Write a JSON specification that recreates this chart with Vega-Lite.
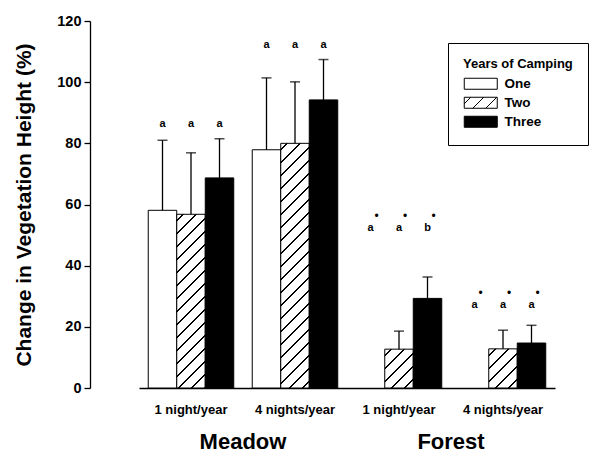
{
  "$schema": "https://vega.github.io/schema/vega-lite/v6.json",
  "width": 502,
  "height": 367,
  "autosize": "none",
  "padding": {"left": 90, "top": 21, "right": 3, "bottom": 69},
  "background": "white",
  "config": {
    "view": {"stroke": null},
    "font": "Liberation Sans",
    "axis": {"labelColor": "black", "titleColor": "black", "domainColor": "black", "tickColor": "black", "grid": false}
  },
  "params": [
    {"name": "hs", "value": [
      {"offset":0.01792,"color":"#fff"},{"offset":0.01792,"color":"#000"},{"offset":0.02375,"color":"#000"},{"offset":0.02375,"color":"#fff"},
      {"offset":0.05958,"color":"#fff"},{"offset":0.05958,"color":"#000"},{"offset":0.06542,"color":"#000"},{"offset":0.06542,"color":"#fff"},
      {"offset":0.10125,"color":"#fff"},{"offset":0.10125,"color":"#000"},{"offset":0.10708,"color":"#000"},{"offset":0.10708,"color":"#fff"},
      {"offset":0.14292,"color":"#fff"},{"offset":0.14292,"color":"#000"},{"offset":0.14875,"color":"#000"},{"offset":0.14875,"color":"#fff"},
      {"offset":0.18458,"color":"#fff"},{"offset":0.18458,"color":"#000"},{"offset":0.19042,"color":"#000"},{"offset":0.19042,"color":"#fff"},
      {"offset":0.22625,"color":"#fff"},{"offset":0.22625,"color":"#000"},{"offset":0.23208,"color":"#000"},{"offset":0.23208,"color":"#fff"},
      {"offset":0.26792,"color":"#fff"},{"offset":0.26792,"color":"#000"},{"offset":0.27375,"color":"#000"},{"offset":0.27375,"color":"#fff"},
      {"offset":0.30958,"color":"#fff"},{"offset":0.30958,"color":"#000"},{"offset":0.31542,"color":"#000"},{"offset":0.31542,"color":"#fff"},
      {"offset":0.35125,"color":"#fff"},{"offset":0.35125,"color":"#000"},{"offset":0.35708,"color":"#000"},{"offset":0.35708,"color":"#fff"},
      {"offset":0.39292,"color":"#fff"},{"offset":0.39292,"color":"#000"},{"offset":0.39875,"color":"#000"},{"offset":0.39875,"color":"#fff"},
      {"offset":0.43458,"color":"#fff"},{"offset":0.43458,"color":"#000"},{"offset":0.44042,"color":"#000"},{"offset":0.44042,"color":"#fff"},
      {"offset":0.47625,"color":"#fff"},{"offset":0.47625,"color":"#000"},{"offset":0.48208,"color":"#000"},{"offset":0.48208,"color":"#fff"},
      {"offset":0.51792,"color":"#fff"},{"offset":0.51792,"color":"#000"},{"offset":0.52375,"color":"#000"},{"offset":0.52375,"color":"#fff"},
      {"offset":0.55958,"color":"#fff"},{"offset":0.55958,"color":"#000"},{"offset":0.56542,"color":"#000"},{"offset":0.56542,"color":"#fff"},
      {"offset":0.60125,"color":"#fff"},{"offset":0.60125,"color":"#000"},{"offset":0.60708,"color":"#000"},{"offset":0.60708,"color":"#fff"},
      {"offset":0.64292,"color":"#fff"},{"offset":0.64292,"color":"#000"},{"offset":0.64875,"color":"#000"},{"offset":0.64875,"color":"#fff"},
      {"offset":0.68458,"color":"#fff"},{"offset":0.68458,"color":"#000"},{"offset":0.69042,"color":"#000"},{"offset":0.69042,"color":"#fff"},
      {"offset":0.72625,"color":"#fff"},{"offset":0.72625,"color":"#000"},{"offset":0.73208,"color":"#000"},{"offset":0.73208,"color":"#fff"},
      {"offset":0.76792,"color":"#fff"},{"offset":0.76792,"color":"#000"},{"offset":0.77375,"color":"#000"},{"offset":0.77375,"color":"#fff"},
      {"offset":0.80958,"color":"#fff"},{"offset":0.80958,"color":"#000"},{"offset":0.81542,"color":"#000"},{"offset":0.81542,"color":"#fff"},
      {"offset":0.85125,"color":"#fff"},{"offset":0.85125,"color":"#000"},{"offset":0.85708,"color":"#000"},{"offset":0.85708,"color":"#fff"},
      {"offset":0.89292,"color":"#fff"},{"offset":0.89292,"color":"#000"},{"offset":0.89875,"color":"#000"},{"offset":0.89875,"color":"#fff"},
      {"offset":0.93458,"color":"#fff"},{"offset":0.93458,"color":"#000"},{"offset":0.94042,"color":"#000"},{"offset":0.94042,"color":"#fff"},
      {"offset":0.97625,"color":"#fff"},{"offset":0.97625,"color":"#000"},{"offset":0.98208,"color":"#000"},{"offset":0.98208,"color":"#fff"}
    ]},
    {"name": "gM1", "expr": "{gradient: 'linear', x1: 0, y1: 0, x2: 0.28699, y2: 1.74911, stops: hs}"},
    {"name": "gM4", "expr": "{gradient: 'linear', x1: 0, y1: 0, x2: 0.14651, y2: 1.25797, stops: hs}"},
    {"name": "gF1", "expr": "{gradient: 'linear', x1: 0, y1: 0, x2: 3.83654, y2: 5.22313, stops: hs}"},
    {"name": "gF4", "expr": "{gradient: 'linear', x1: 0, y1: 0, x2: 3.79828, y2: 5.21097, stops: hs}"},
    {"name": "gLeg", "expr": "{gradient: 'linear', x1: 0, y1: 0, x2: 8.50909, y2: 2.83636, stops: hs}"}
  ],
  "layer": [
    {
      "data": {"values": [
        {"group": "Meadow|1 night/year", "years": "One", "value": 58.1, "upper": 81.0, "letter": "a", "letterY": 86.2, "star": false},
        {"group": "Meadow|1 night/year", "years": "Two", "value": 56.8, "upper": 76.9, "letter": "a", "letterY": 86.2, "star": false},
        {"group": "Meadow|1 night/year", "years": "Three", "value": 68.7, "upper": 81.5, "letter": "a", "letterY": 86.2, "star": false},
        {"group": "Meadow|4 nights/year", "years": "One", "value": 77.9, "upper": 101.4, "letter": "a", "letterY": 112.3, "star": false},
        {"group": "Meadow|4 nights/year", "years": "Two", "value": 80.0, "upper": 100.1, "letter": "a", "letterY": 112.3, "star": false},
        {"group": "Meadow|4 nights/year", "years": "Three", "value": 94.2, "upper": 107.4, "letter": "a", "letterY": 112.3, "star": false},
        {"group": "Forest|1 night/year", "years": "One", "value": null, "upper": null, "letter": "a", "letterY": 52.4, "star": true},
        {"group": "Forest|1 night/year", "years": "Two", "value": 12.7, "upper": 18.6, "letter": "a", "letterY": 52.4, "star": true},
        {"group": "Forest|1 night/year", "years": "Three", "value": 29.3, "upper": 36.3, "letter": "b", "letterY": 52.4, "star": true},
        {"group": "Forest|4 nights/year", "years": "One", "value": null, "upper": null, "letter": "a", "letterY": 27.0, "star": true},
        {"group": "Forest|4 nights/year", "years": "Two", "value": 12.8, "upper": 18.9, "letter": "a", "letterY": 27.0, "star": true},
        {"group": "Forest|4 nights/year", "years": "Three", "value": 14.7, "upper": 20.5, "letter": "a", "letterY": 27.0, "star": true}
      ]},
      "encoding": {
        "x": {
          "field": "group", "type": "nominal",
          "scale": {"domain": ["Meadow|1 night/year", "Meadow|4 nights/year", "Forest|1 night/year", "Forest|4 nights/year"], "range": [49, 465], "paddingInner": 0, "paddingOuter": 0},
          "axis": {"title": null, "labelExpr": "split(datum.label, '|')[1]", "ticks": false, "labelPadding": 15, "labelFontSize": 13, "labelFontWeight": "bold", "labelAngle": 0, "domainWidth": 1.3}
        },
        "xOffset": {
          "field": "years", "type": "nominal",
          "scale": {"domain": ["One", "Two", "Three"], "paddingInner": 0, "paddingOuter": 0.32456}
        }
      },
      "layer": [
        {
          "mark": {"type": "bar", "stroke": "black", "strokeWidth": 1},
          "encoding": {
            "y": {
              "field": "value", "type": "quantitative", "title": "Change in Vegetation Height (%)",
              "scale": {"domain": [0, 120]},
              "axis": {"values": [0, 20, 40, 60, 80, 100, 120], "tickSize": 6, "labelPadding": 3, "labelFontSize": 14.5, "labelFontWeight": "bold", "titleFontSize": 21, "titleFontWeight": "bold", "titlePadding": 22, "domainWidth": 1.3, "tickWidth": 1.3}
            },
            "fill": {
              "field": "years", "type": "nominal",
              "scale": {"domain": ["One", "Two", "Three"], "range": ["white", {"expr": "gLeg"}, "black"]},
              "condition": [
                {"test": "datum.years === 'Two' && datum.group === 'Meadow|1 night/year'", "value": {"expr": "gM1"}},
                {"test": "datum.years === 'Two' && datum.group === 'Meadow|4 nights/year'", "value": {"expr": "gM4"}},
                {"test": "datum.years === 'Two' && datum.group === 'Forest|1 night/year'", "value": {"expr": "gF1"}},
                {"test": "datum.years === 'Two' && datum.group === 'Forest|4 nights/year'", "value": {"expr": "gF4"}}
              ],
              "legend": {
                "orient": "none", "legendX": 358, "legendY": 22,
                "title": "Years of Camping", "titleFontSize": 13, "titleFontWeight": "bold", "titleColor": "black", "titlePadding": 6,
                "labelFontSize": 13.5, "labelFontWeight": "bold", "labelColor": "black", "labelOffset": 28, "labelAlign": "left",
                "symbolType": "M-1,-1H5V1H-1Z", "symbolSize": 121, "symbolStrokeColor": "black", "symbolStrokeWidth": 1,
                "rowPadding": 3, "padding": 15, "strokeColor": "black", "fillColor": "white"
              }
            }
          }
        },
        {
          "mark": {"type": "rule", "color": "black", "strokeWidth": 1.3},
          "encoding": {
            "y": {"field": "value", "type": "quantitative", "title": "Change in Vegetation Height (%)", "scale": {"domain": [0, 120]}},
            "y2": {"field": "upper"}
          }
        },
        {
          "mark": {"type": "tick", "orient": "horizontal", "color": "black", "size": 10, "thickness": 1.5},
          "encoding": {
            "y": {"field": "upper", "type": "quantitative", "title": "Change in Vegetation Height (%)", "scale": {"domain": [0, 120]}}
          }
        },
        {
          "mark": {"type": "text", "fontSize": 11, "fontWeight": "bold", "color": "black", "baseline": "middle"},
          "encoding": {
            "y": {"field": "letterY", "type": "quantitative", "title": "Change in Vegetation Height (%)", "scale": {"domain": [0, 120]}},
            "text": {"field": "letter"}
          }
        },
        {
          "transform": [{"filter": "datum.star"}],
          "mark": {"type": "text", "text": "•", "fontSize": 12, "color": "black", "baseline": "middle", "dx": 6, "dy": -12},
          "encoding": {
            "y": {"field": "letterY", "type": "quantitative", "title": "Change in Vegetation Height (%)", "scale": {"domain": [0, 120]}}
          }
        }
      ]
    },
    {
      "data": {"values": [{"habitat": "Meadow"}, {"habitat": "Forest"}]},
      "mark": {"type": "rule", "opacity": 0},
      "encoding": {
        "x": {
          "field": "habitat", "type": "nominal",
          "scale": {"domain": ["Meadow", "Forest"], "range": [49, 465], "paddingInner": 0, "paddingOuter": 0},
          "axis": {"orient": "bottom", "title": null, "domain": false, "ticks": false, "labelFontSize": 22, "labelFontWeight": "bold", "labelPadding": 43, "labelAngle": 0}
        }
      }
    }
  ],
  "resolve": {"scale": {"x": "independent"}}
}
